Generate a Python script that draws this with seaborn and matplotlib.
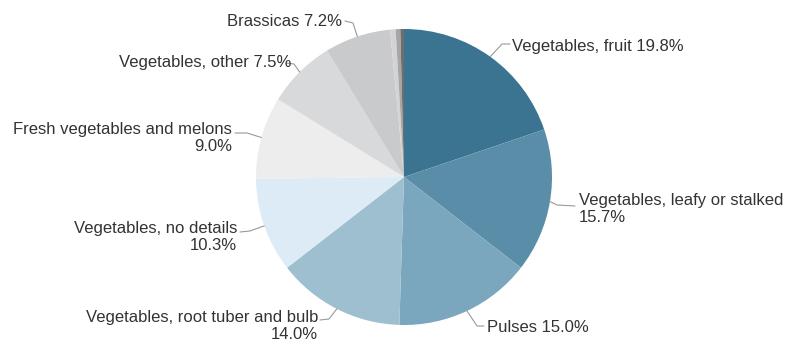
import matplotlib
matplotlib.use("Agg")
import matplotlib.pyplot as plt
import seaborn as sns
import numpy as np

# data (clockwise from 12 o'clock)
categories = ["Vegetables, fruit", "Vegetables, leafy or stalked", "Pulses",
              "Vegetables, root tuber and bulb", "Vegetables, no details",
              "Fresh vegetables and melons", "Vegetables, other", "Brassicas",
              "Other 1", "Other 2", "Other 3"]
shares = [19.8, 15.7, 15.0, 14.0, 10.3, 9.0, 7.5, 7.2, 0.6, 0.5, 0.4]
label_texts = ["Vegetables, fruit 19.8%", "Vegetables, leafy or stalked\n15.7%",
               "Pulses 15.0%", "Vegetables, root tuber and bulb\n14.0%",
               "Vegetables, no details\n10.3%", "Fresh vegetables and melons\n9.0%",
               "Vegetables, other 7.5%", "Brassicas 7.2%"]
colors = ["#3b7491", "#5a8ea8", "#7aa7bd", "#9dbfcf", "#dcebf5", "#ededee",
          "#d8d9db", "#c9cacc", "#d3d3d5", "#a6a6a8", "#6e6e70"]

sns.set_theme(style="white")
plt.rcParams["font.family"] = ["Liberation Sans", "DejaVu Sans"]

W, H = 789, 344
cx, cy, R = 404, 177, 148

fig = plt.figure(figsize=(W / 100, H / 100), dpi=100)
ax = fig.add_axes([(cx - R) / W, (H - cy - R) / H, 2 * R / W, 2 * R / H])

wedges, _ = ax.pie(shares, colors=colors, startangle=90, counterclock=False,
                   radius=1, wedgeprops=dict(linewidth=0))
ax.set_xlim(-1, 1)
ax.set_ylim(-1, 1)
ax.set_aspect("auto")
ax.axis("off")


def to_data(px, py):
    return (px - cx) / R, (cy - py) / R


# label layout in pixels: text anchor, alignment, leader path (elbow, end)
layout = [
    ((512, 46), "left", [(502, 44), (510, 44)]),
    ((579, 209), "left", [(557, 205), (575, 206)]),
    ((487, 327), "left", [(477, 326), (484, 326)]),
    ((318, 326), "right", [(329, 319), (320, 320)]),
    ((237, 237), "right", [(250, 231), (240, 232)]),
    ((232, 138), "right", [(247, 133), (235, 133)]),
    ((291, 62), "right", [(294, 64), (286, 63)]),
    ((342, 21), "right", [(353, 23), (345, 21)]),
]

for w, txt, (pos, ha, path) in zip(wedges, label_texts, layout):
    ang = np.deg2rad((w.theta1 + w.theta2) / 2)
    pts = [(np.cos(ang), np.sin(ang))] + [to_data(*p) for p in path]
    xs, ys = zip(*pts)
    ax.plot(xs, ys, color="#9a9a9a", lw=0.8, clip_on=False)
    tx, ty = to_data(*pos)
    ax.text(tx, ty, txt, ha=ha, va="center", multialignment=ha,
            fontsize=12, color="#333333", linespacing=1.15, clip_on=False)

fig.savefig("out.png", dpi=100)
